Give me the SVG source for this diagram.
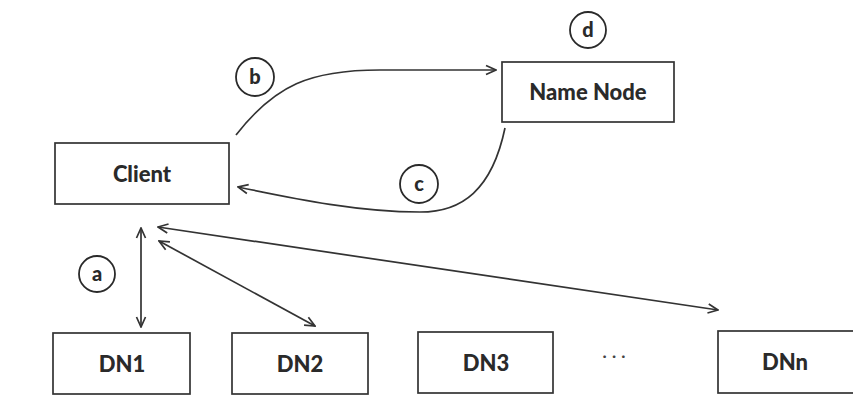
<svg xmlns="http://www.w3.org/2000/svg" width="853" height="406" viewBox="0 0 853 406">
<style>
.box{fill:#fff;stroke:#333;stroke-width:1.7}
.lbl{font-family:Lato,"Liberation Sans",sans-serif;font-weight:900;font-size:22px;fill:#2a2a2a;text-anchor:middle}
.tag{fill:#fff;stroke:#2a2a2a;stroke-width:1.8}
.tagt{font-family:Lato,"Liberation Sans",sans-serif;font-weight:900;font-size:20px;fill:#2a2a2a;text-anchor:middle}
.con{fill:none;stroke:#333;stroke-width:1.7}
.dots{font-family:Lato,"Liberation Sans",sans-serif;font-size:18px;fill:#444;text-anchor:middle}
</style>
<defs>
<marker id="ah" viewBox="0 0 12 12" refX="11" refY="6" markerWidth="12" markerHeight="12" markerUnits="userSpaceOnUse" orient="auto-start-reverse">
<path d="M1,1.5 L11,6 L1,10.5" fill="none" stroke="#333" stroke-width="1.7"/>
</marker>
</defs>
<rect width="853" height="406" fill="#fff"/>
<g id="connectors">
<path class="con" d="M236,135 C275,85 310,70 380,70 L496,70" marker-end="url(#ah)"/>
<path class="con" d="M505,128 C492,190 462,212 420,212 C360,212 300,200 238,187" marker-end="url(#ah)"/>
<line class="con" x1="141" y1="228" x2="141" y2="327" marker-start="url(#ah)" marker-end="url(#ah)"/>
<line class="con" x1="159" y1="241" x2="315" y2="326" marker-start="url(#ah)" marker-end="url(#ah)"/>
<line class="con" x1="158" y1="227" x2="718" y2="310" marker-start="url(#ah)" marker-end="url(#ah)"/>
</g>
<g id="client"><rect class="box" x="55" y="143" width="174" height="61"/><text class="lbl" x="142" y="182">Client</text></g>
<g id="namenode"><rect class="box" x="502" y="62" width="172" height="60"/><text class="lbl" x="588" y="100">Name Node</text></g>
<g id="dn1"><rect class="box" x="53" y="333" width="137" height="61"/><text class="lbl" x="122" y="372">DN1</text></g>
<g id="dn2"><rect class="box" x="232" y="333" width="136" height="61"/><text class="lbl" x="300" y="372">DN2</text></g>
<g id="dn3"><rect class="box" x="418" y="332" width="135" height="61"/><text class="lbl" x="486" y="371">DN3</text></g>
<g id="dnn"><rect class="box" x="718" y="331" width="150" height="62"/><text class="lbl" x="785" y="370">DNn</text></g>
<g id="ellipsis"><text class="dots" x="614" y="362">· · ·</text></g>
<g id="tag-a"><circle class="tag" cx="97" cy="274" r="18"/><text class="tagt" x="97" y="281">a</text></g>
<g id="tag-b"><circle class="tag" cx="255" cy="77" r="19"/><text class="tagt" x="255" y="84">b</text></g>
<g id="tag-c"><circle class="tag" cx="419" cy="184" r="19"/><text class="tagt" x="419" y="191">c</text></g>
<g id="tag-d"><circle class="tag" cx="588" cy="30" r="18"/><text class="tagt" x="588" y="37">d</text></g>
</svg>
